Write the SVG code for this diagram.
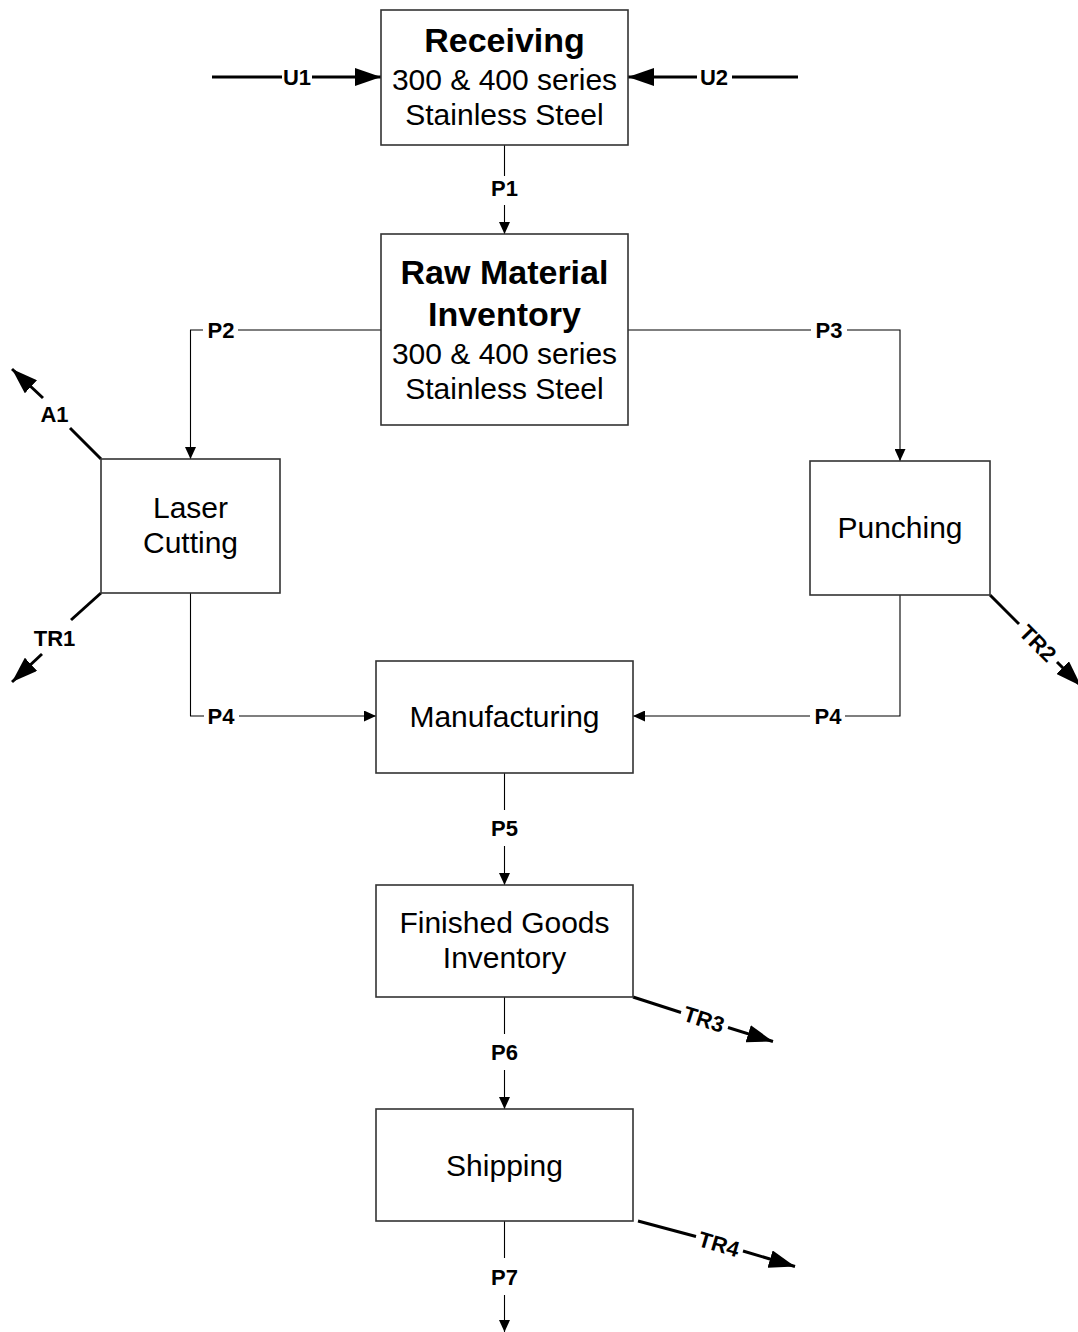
<svg xmlns="http://www.w3.org/2000/svg" width="1078" height="1332" viewBox="0 0 1078 1332">
<style>
.box{fill:#fff;stroke:#333;stroke-width:1.6}
.t{font-family:"Liberation Sans",Arial,sans-serif;font-size:30px;fill:#000;text-anchor:middle}
.tb{font-family:"Liberation Sans",Arial,sans-serif;font-size:34px;font-weight:bold;fill:#000;text-anchor:middle}
.lbl{font-family:"Liberation Sans",Arial,sans-serif;font-size:22px;font-weight:bold;fill:#000;text-anchor:middle}
.thin{fill:none;stroke:#000;stroke-width:1.1}
.thick{fill:none;stroke:#000;stroke-width:3}
</style>
<defs>
<marker id="a" viewBox="0 0 12 11" refX="12" refY="5.5" markerWidth="12" markerHeight="11" markerUnits="userSpaceOnUse" orient="auto"><path d="M0,0L12,5.5L0,11z" fill="#000"/></marker>
<marker id="A" viewBox="0 0 26 18" refX="26" refY="9" markerWidth="26" markerHeight="18" markerUnits="userSpaceOnUse" orient="auto"><path d="M0,0L26,9L0,18z" fill="#000"/></marker>
</defs>
<g id="connectors">
<!-- U1 -->
<line class="thick" x1="212" y1="77" x2="282" y2="77"/>
<line class="thick" x1="312" y1="77" x2="381" y2="77" marker-end="url(#A)"/>
<text class="lbl" x="297" y="85">U1</text>
<!-- U2 -->
<line class="thick" x1="798" y1="77" x2="732" y2="77"/>
<line class="thick" x1="697" y1="77" x2="628" y2="77" marker-end="url(#A)"/>
<text class="lbl" x="714" y="85">U2</text>
<!-- P1 -->
<line class="thin" x1="504.5" y1="145" x2="504.5" y2="176"/>
<line class="thin" x1="504.5" y1="205" x2="504.5" y2="234" marker-end="url(#a)"/>
<text class="lbl" x="504.5" y="195.5">P1</text>
<!-- P2 -->
<line class="thin" x1="381" y1="330" x2="238" y2="330"/>
<polyline class="thin" points="203,330 190.5,330 190.5,459" marker-end="url(#a)"/>
<text class="lbl" x="221" y="338">P2</text>
<!-- P3 -->
<line class="thin" x1="628" y1="330" x2="811" y2="330"/>
<polyline class="thin" points="847,330 900,330 900,461" marker-end="url(#a)"/>
<text class="lbl" x="829" y="338">P3</text>
<!-- P4 left -->
<polyline class="thin" points="190.5,593 190.5,716 204,716"/>
<line class="thin" x1="239" y1="716" x2="376" y2="716" marker-end="url(#a)"/>
<text class="lbl" x="221" y="724">P4</text>
<!-- P4 right -->
<polyline class="thin" points="900,595 900,716 845,716"/>
<line class="thin" x1="810" y1="716" x2="633" y2="716" marker-end="url(#a)"/>
<text class="lbl" x="828" y="724">P4</text>
<!-- P5 -->
<line class="thin" x1="504.5" y1="773" x2="504.5" y2="810"/>
<line class="thin" x1="504.5" y1="846" x2="504.5" y2="885" marker-end="url(#a)"/>
<text class="lbl" x="504.5" y="836">P5</text>
<!-- P6 -->
<line class="thin" x1="504.5" y1="997" x2="504.5" y2="1034"/>
<line class="thin" x1="504.5" y1="1070" x2="504.5" y2="1109" marker-end="url(#a)"/>
<text class="lbl" x="504.5" y="1060">P6</text>
<!-- P7 -->
<line class="thin" x1="504.5" y1="1221" x2="504.5" y2="1258"/>
<line class="thin" x1="504.5" y1="1295" x2="504.5" y2="1332" marker-end="url(#a)"/>
<text class="lbl" x="504.5" y="1285">P7</text>
<!-- A1 -->
<line class="thick" x1="101" y1="459" x2="70" y2="428"/>
<line class="thick" x1="43" y1="398" x2="12" y2="369" marker-end="url(#A)"/>
<text class="lbl" x="54.5" y="421.5">A1</text>
<!-- TR1 -->
<line class="thick" x1="101" y1="593" x2="71" y2="620"/>
<line class="thick" x1="42" y1="654" x2="12" y2="682" marker-end="url(#A)"/>
<text class="lbl" x="54.5" y="645.5">TR1</text>
<!-- TR2 -->
<line class="thick" x1="990" y1="595" x2="1019" y2="624"/>
<line class="thick" x1="1057" y1="662" x2="1081" y2="686" marker-end="url(#A)"/>
<text class="lbl" transform="translate(1038,643) rotate(45)" x="0" y="8">TR2</text>
<!-- TR3 -->
<line class="thick" x1="633" y1="997" x2="681" y2="1012.5"/>
<line class="thick" x1="728" y1="1027.5" x2="773" y2="1041.5" marker-end="url(#A)"/>
<text class="lbl" transform="translate(704,1019) rotate(17.7)" x="0" y="8">TR3</text>
<!-- TR4 -->
<line class="thick" x1="638" y1="1221" x2="696" y2="1236.5"/>
<line class="thick" x1="743" y1="1251" x2="795" y2="1266.5" marker-end="url(#A)"/>
<text class="lbl" transform="translate(719,1244) rotate(16.4)" x="0" y="8">TR4</text>
</g>
<g id="receiving">
<rect class="box" x="381" y="10" width="247" height="135"/>
<text class="tb" x="504.5" y="52">Receiving</text>
<text class="t" x="504.5" y="90">300 &amp; 400 series</text>
<text class="t" x="504.5" y="125">Stainless Steel</text>
</g>
<g id="raw-material-inventory">
<rect class="box" x="381" y="234" width="247" height="191"/>
<text class="tb" x="504.5" y="284">Raw Material</text>
<text class="tb" x="504.5" y="326">Inventory</text>
<text class="t" x="504.5" y="364">300 &amp; 400 series</text>
<text class="t" x="504.5" y="399">Stainless Steel</text>
</g>
<g id="laser-cutting">
<rect class="box" x="101" y="459" width="179" height="134"/>
<text class="t" x="190.5" y="518">Laser</text>
<text class="t" x="190.5" y="553">Cutting</text>
</g>
<g id="punching">
<rect class="box" x="810" y="461" width="180" height="134"/>
<text class="t" x="900" y="538">Punching</text>
</g>
<g id="manufacturing">
<rect class="box" x="376" y="661" width="257" height="112"/>
<text class="t" x="504.5" y="727">Manufacturing</text>
</g>
<g id="finished-goods-inventory">
<rect class="box" x="376" y="885" width="257" height="112"/>
<text class="t" x="504.5" y="933">Finished Goods</text>
<text class="t" x="504.5" y="968">Inventory</text>
</g>
<g id="shipping">
<rect class="box" x="376" y="1109" width="257" height="112"/>
<text class="t" x="504.5" y="1176">Shipping</text>
</g>
</svg>
